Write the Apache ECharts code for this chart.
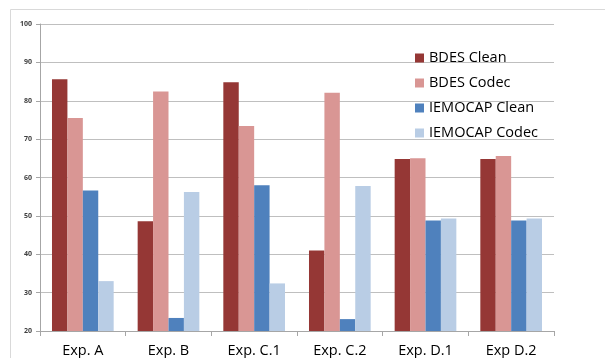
<!DOCTYPE html>
<html>
<head>
<meta charset="utf-8">
<script src="https://cdn.jsdelivr.net/npm/echarts@6/dist/echarts.min.js"></script>
<style>
  html, body { margin: 0; padding: 0; background: #fff; }
  #chart { width: 605px; height: 358px; }
</style>
</head>
<body>
<div id="chart"></div>
<script>
const categories = ['Exp. A', 'Exp. B', 'Exp. C.1', 'Exp. C.2', 'Exp. D.1', 'Exp D.2']
const bdesClean = [85.6, 48.6, 84.8, 41.0, 64.8, 64.8]
const bdesCodec = [75.5, 82.4, 73.4, 82.1, 65.0, 65.6]
const iemocapClean = [56.6, 23.4, 58.0, 23.1, 48.8, 48.8]
const iemocapCodec = [33.0, 56.2, 32.4, 57.8, 49.3, 49.3]

const chart = echarts.init(document.getElementById('chart'))

const mkSeries = (name, data, color) => ({
  name: name,
  type: 'bar',
  data: data,
  barGap: '0%',
  barCategoryGap: '28%',
  itemStyle: { color: color },
  emphasis: { disabled: true }
})

chart.setOption({
  animation: false,
  textStyle: { fontFamily: 'Open Sans' },
  graphic: [{
    type: 'rect',
    z: -10,
    shape: { x: 10.5, y: 9.5, width: 700, height: 400 },
    style: { fill: 'none', stroke: '#D9D9D9', lineWidth: 1 }
  }],
  legend: {
    orient: 'vertical',
    left: 410,
    top: 45,
    icon: 'rect',
    itemWidth: 9,
    itemHeight: 9,
    itemGap: 9,
    textStyle: { fontSize: 14.5, color: '#000', lineHeight: 16 },
    data: ['BDES Clean', 'BDES Codec', 'IEMOCAP Clean', 'IEMOCAP Codec']
  },
  grid: { left: 40, right: 51, top: 24, bottom: 26, containLabel: false },
  xAxis: {
    type: 'category',
    data: categories,
    axisLine: { lineStyle: { color: '#A6A6A6' } },
    axisTick: { show: true, length: 5, lineStyle: { color: '#A6A6A6' } },
    axisLabel: { fontSize: 14.5, color: '#000', margin: 12 }
  },
  yAxis: {
    type: 'value',
    min: 20,
    max: 100,
    interval: 10,
    axisLine: { show: true, lineStyle: { color: '#A6A6A6' } },
    axisTick: { show: true, length: 4, lineStyle: { color: '#A6A6A6' } },
    axisLabel: { fontSize: 7, color: '#404040', margin: 8, fontWeight: 'bold' },
    splitLine: { lineStyle: { color: '#BFBFBF' } }
  },
  series: [
    mkSeries('BDES Clean', bdesClean, '#953735'),
    mkSeries('BDES Codec', bdesCodec, '#D99694'),
    mkSeries('IEMOCAP Clean', iemocapClean, '#4F81BD'),
    mkSeries('IEMOCAP Codec', iemocapCodec, '#B9CDE5')
  ]
})
</script>
</body>
</html>
